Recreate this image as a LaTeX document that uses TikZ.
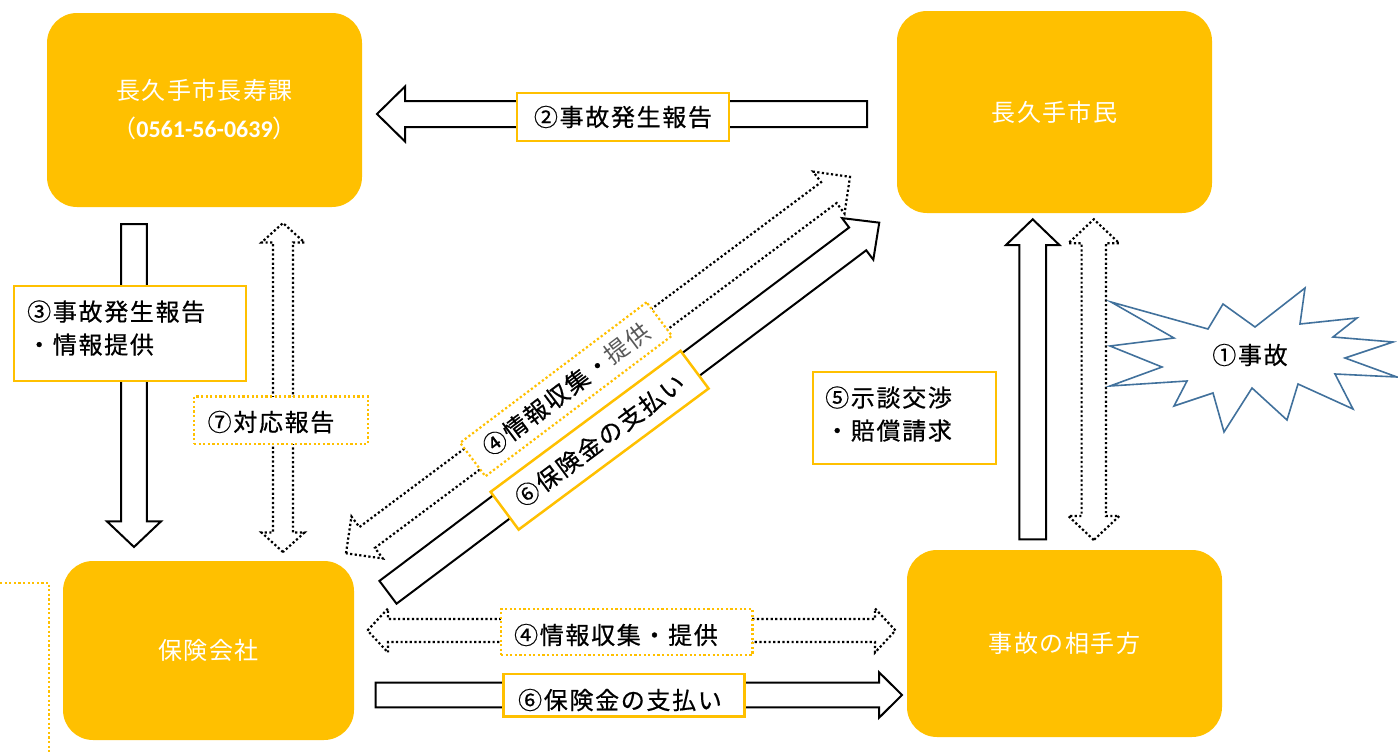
\documentclass[tikz,border=0pt]{standalone}
\usepackage{fontspec}
\setmainfont{Noto Sans CJK JP}
\newfontfamily\carlito{Carlito}
\definecolor{gold}{HTML}{FFC000}
\definecolor{burst}{HTML}{41719C}
\newcommand\ttlfnt{\fontsize{24}{38}\selectfont\addfontfeatures{LetterSpace=6}}
\newcommand\lblfnt{\fontsize{24}{33}\selectfont\addfontfeatures{LetterSpace=7,FakeBold=0.6}}
% single block arrow: style, start, angle, length, shaft half width, head half width, head length
\newcommand\blockarr[7]{%
  \begin{scope}[shift={#2},rotate=#3]
    \draw[#1] (0,-#5) -- ({#4-#7},-#5) -- ({#4-#7},-#6) -- (#4,0) -- ({#4-#7},#6) -- ({#4-#7},#5) -- (0,#5) -- cycle;
  \end{scope}}
% double block arrow: style, start tip, angle, length, shaft half width, head half width, head length
\newcommand\dblarr[7]{%
  \begin{scope}[shift={#2},rotate=#3]
    \draw[#1] (0,0) -- (#7,-#6) -- (#7,-#5) -- ({#4-#7},-#5) -- ({#4-#7},-#6) -- (#4,0) -- ({#4-#7},#6) -- ({#4-#7},#5) -- (#7,#5) -- (#7,#6) -- cycle;
  \end{scope}}
\begin{document}
\begin{tikzpicture}[x=1pt,y=-1pt,
  titlebox/.style={fill=gold, rounded corners=30pt, text=white, font=\ttlfnt, align=center, inner sep=0pt},
  solidarr/.style={draw=black, line width=2pt, fill=white, line join=miter},
  dotarr/.style={draw=black, line width=2.2pt, dash pattern=on 2.2pt off 2.4pt, fill=white},
  goldbox/.style={draw=gold, line width=2.5pt, fill=white, inner sep=0pt, font=\lblfnt},
  golddot/.style={draw=gold, line width=2.2pt, dash pattern=on 2.2pt off 2.4pt, fill=white, inner sep=0pt, font=\lblfnt},
  lbl/.style={inner sep=0pt, font=\lblfnt, text=black},
  burstshape/.style={draw=burst, line width=1.6pt, fill=white, line join=miter}
]
\useasboundingbox (0,0) rectangle (1398,755);

% organisation boxes
\node[titlebox, minimum width=315pt, minimum height=194pt] (choju) at (204.5,110)
  {長久手市長寿課\\（{\carlito\bfseries 0561-56-0639}）};
\node[titlebox, minimum width=315pt, minimum height=202pt] (shimin) at (1054.5,112) {長久手市民};
\node[titlebox, minimum width=291pt, minimum height=179pt] (hoken) at (208.5,650.5) {保険会社};
\node[titlebox, minimum width=315pt, minimum height=187pt] (aite) at (1064.5,643.5) {事故の相手方};

% block arrows
\blockarr{solidarr}{(867,114)}{180}{490}{13}{27.5}{28}
\blockarr{solidarr}{(134,224)}{-90}{323}{12.8}{27}{25.6}
\dblarr{dotarr}{(283,552)}{90}{329}{10}{21.5}{19.5}
\blockarr{solidarr}{(1032.7,539.3)}{90}{320}{13.3}{26.7}{25.7}
\dblarr{dotarr}{(1093.8,540)}{90}{320.7}{12.2}{25.5}{24}
\blockarr{solidarr}{(388,592.3)}{36.96}{614.8}{14.25}{26}{27}
\dblarr{dotarr}{(346,553.3)}{36.76}{629.1}{13}{26.2}{26.4}
\dblarr{dotarr}{(367.5,630.5)}{0}{528}{11.5}{22}{20.5}
\blockarr{solidarr}{(375.5,695)}{0}{526.5}{12.3}{22.8}{23}

% partial dotted frame at the lower left
\draw[draw=gold, line width=2.2pt, dash pattern=on 2.2pt off 2.4pt] (0,583) -- (49,583) -- (49,755);

% accident burst
\draw[burstshape] (1111,302) -- (1208,329) -- (1223,304) -- (1255,327) -- (1305,288) -- (1300,324)
  -- (1357,318) -- (1333,337) -- (1393,342) -- (1345,358) -- (1397,377) -- (1335,374) -- (1353,409)
  -- (1298,384) -- (1287,420) -- (1252,388) -- (1224,432) -- (1213,393) -- (1174,406) -- (1187,381)
  -- (1110,386) -- (1162,367) -- (1110,346) -- (1174,338) -- cycle;
\node[lbl] (jiko) at (1250,355) {①事故};

% labels
\node[goldbox, minimum width=212pt, minimum height=48pt] (l2) at (623,117) {②事故発生報告};

\node[goldbox, minimum width=231.7pt, minimum height=95pt] (l3) at (129.9,333.5) {};
\node[lbl, anchor=west, align=left] (t3) at (27,328) {③事故発生報告\\・情報提供};

\node[golddot, minimum width=174pt, minimum height=47.5pt] (l7) at (281,420.3) {};
\node[lbl] (t7) at (271,422) {⑦対応報告};

\node[golddot, rotate=37, minimum width=233.5pt, minimum height=42pt] (l4d) at (566,389.3)
  {④情報収集・{\color{black!65}\addfontfeatures{FakeBold=0}提供}};
\node[goldbox, rotate=36.6, minimum width=236.6pt, minimum height=47pt] (l6d) at (599.6,440.2)
  {⑥保険金の支払い};

\node[goldbox, minimum width=183pt, minimum height=92pt] (l5) at (904.5,418) {};
\node[lbl, anchor=west, align=left] (t5) at (825,414) {⑤示談交渉\\・賠償請求};

\node[golddot, minimum width=251.5pt, minimum height=46pt] (l4) at (626.7,632) {};
\node[lbl] (t4) at (616,635) {④情報収集・提供};

\node[goldbox, minimum width=241pt, minimum height=42.7pt] (l6) at (624,695.3) {};
\node[lbl] (t6) at (620,700) {⑥保険金の支払い};
\end{tikzpicture}
\end{document}
